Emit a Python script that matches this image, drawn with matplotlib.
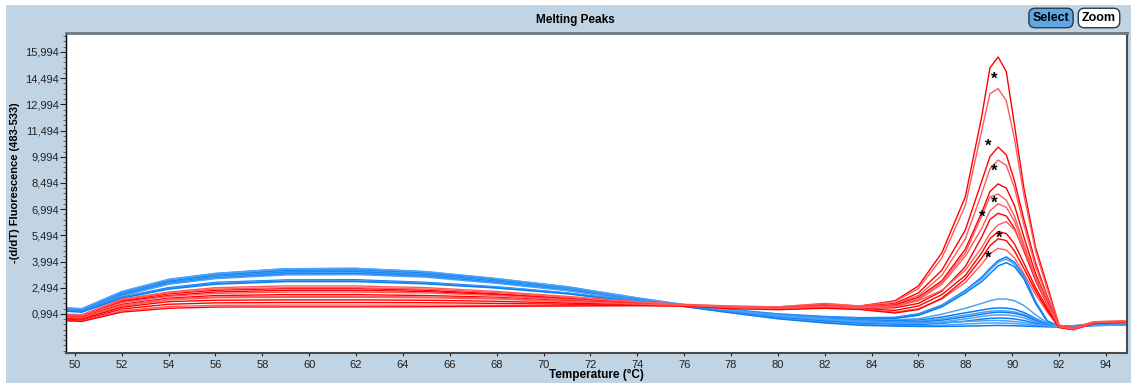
import matplotlib
matplotlib.use("Agg")
import matplotlib.pyplot as plt
from matplotlib.patches import Rectangle
from matplotlib.ticker import FixedLocator, FuncFormatter

plt.rcParams['font.family'] = ['Liberation Sans', 'DejaVu Sans']

# temperature grid (°C)
temps = [49.7, 50.3, 52, 54, 56, 59, 62, 65, 68, 71, 74, 76, 78, 80, 82, 83.5,
         85, 86, 87, 88, 88.7, 89.05, 89.4, 89.75, 90.1, 90.5, 91, 91.5, 92, 92.6, 93.5, 94.8]

# red samples, -(d/dT) values
red_curves = [
    [0.95, 0.92, 1.75, 2.15, 2.35, 2.45, 2.45, 2.35, 2.15, 1.9, 1.65, 1.5, 1.42, 1.38, 1.55, 1.45,
     1.75, 2.6, 4.5, 7.7, 12.3, 15.08, 15.71, 14.86, 11.8, 8.2, 4.8, 2.6, 0.35, 0.2, 0.55, 0.58],
    [0.98, 0.95, 1.85, 2.25, 2.5, 2.6, 2.6, 2.5, 2.28, 2.0, 1.7, 1.55, 1.45, 1.4, 1.6, 1.45,
     1.7, 2.45, 4.2, 7.2, 11.5, 13.6, 13.9, 13.2, 11.0, 7.8, 4.6, 2.4, 0.35, 0.2, 0.55, 0.6],
    [0.9, 0.87, 1.7, 2.05, 2.25, 2.35, 2.35, 2.28, 2.1, 1.85, 1.62, 1.5, 1.4, 1.35, 1.5, 1.4,
     1.6, 2.2, 3.5, 5.8, 8.6, 10.0, 10.55, 10.1, 8.6, 6.4, 3.9, 2.0, 0.3, 0.18, 0.5, 0.55],
    [0.88, 0.85, 1.65, 2.0, 2.17, 2.25, 2.25, 2.2, 2.05, 1.82, 1.6, 1.5, 1.4, 1.33, 1.48, 1.38,
     1.55, 2.05, 3.2, 5.3, 7.9, 9.3, 9.81, 9.5, 8.2, 6.1, 3.7, 1.9, 0.3, 0.18, 0.5, 0.55],
    [0.82, 0.8, 1.55, 1.9, 2.05, 2.1, 2.1, 2.05, 1.95, 1.75, 1.58, 1.5, 1.38, 1.32, 1.45, 1.35,
     1.5, 1.95, 2.9, 4.7, 6.8, 8.0, 8.44, 8.2, 7.2, 5.4, 3.3, 1.7, 0.28, 0.15, 0.5, 0.55],
    [0.78, 0.75, 1.45, 1.8, 1.92, 1.95, 1.95, 1.92, 1.85, 1.7, 1.55, 1.48, 1.36, 1.3, 1.42, 1.33,
     1.45, 1.85, 2.8, 4.5, 6.6, 7.7, 7.86, 7.5, 6.6, 5.0, 3.1, 1.6, 0.28, 0.15, 0.5, 0.55],
    [0.74, 0.71, 1.38, 1.7, 1.78, 1.8, 1.8, 1.78, 1.72, 1.62, 1.52, 1.47, 1.35, 1.3, 1.4, 1.32,
     1.35, 1.6, 2.3, 3.7, 5.4, 6.4, 6.76, 6.6, 5.9, 4.6, 2.9, 1.5, 0.25, 0.12, 0.48, 0.55],
    [0.95, 0.92, 1.8, 2.2, 2.42, 2.5, 2.5, 2.42, 2.22, 1.95, 1.68, 1.52, 1.44, 1.4, 1.58, 1.42,
     1.45, 1.75, 2.35, 3.5, 4.8, 5.6, 6.1, 6.28, 5.8, 4.7, 3.1, 1.6, 0.3, 0.15, 0.52, 0.58],
    [0.68, 0.65, 1.28, 1.55, 1.63, 1.65, 1.65, 1.64, 1.6, 1.55, 1.5, 1.46, 1.34, 1.28, 1.38, 1.3,
     1.2, 1.45, 2.1, 3.2, 4.5, 5.3, 5.71, 5.6, 5.0, 3.9, 2.5, 1.3, 0.25, 0.12, 0.48, 0.52],
    [0.63, 0.6, 1.18, 1.42, 1.49, 1.5, 1.5, 1.5, 1.49, 1.48, 1.48, 1.45, 1.32, 1.26, 1.35, 1.28,
     1.1, 1.3, 1.85, 2.8, 3.85, 4.45, 4.75, 4.65, 4.2, 3.3, 2.1, 1.1, 0.22, 0.1, 0.45, 0.5],
    [0.6, 0.57, 1.1, 1.32, 1.39, 1.4, 1.4, 1.41, 1.43, 1.45, 1.47, 1.45, 1.3, 1.24, 1.32, 1.25,
     1.05, 1.25, 1.9, 3.0, 4.2, 4.9, 5.3, 5.2, 4.6, 3.6, 2.3, 1.2, 0.22, 0.1, 0.45, 0.5],
    [0.8, 0.77, 1.5, 1.85, 1.97, 2.0, 2.0, 1.97, 1.9, 1.72, 1.56, 1.49, 1.37, 1.31, 1.44, 1.34,
     1.4, 1.8, 2.7, 4.3, 5.9, 6.9, 7.3, 7.1, 6.3, 4.8, 3.0, 1.55, 0.27, 0.13, 0.5, 0.55],
]

# blue samples
blue_curves = [
    [1.32, 1.28, 2.25, 2.95, 3.3, 3.58, 3.6, 3.4, 3.0, 2.55, 1.9, 1.52, 1.25, 1.0, 0.85, 0.78,
     0.8, 1.0, 1.5, 2.35, 3.1, 3.6, 4.05, 4.26, 3.95, 3.2, 1.7, 0.6, 0.3, 0.32, 0.38, 0.4],
    [1.3, 1.26, 2.2, 2.9, 3.25, 3.52, 3.55, 3.36, 2.95, 2.5, 1.88, 1.5, 1.23, 0.97, 0.82, 0.74,
     0.76, 0.95, 1.45, 2.3, 3.0, 3.5, 3.95, 4.14, 3.85, 3.1, 1.65, 0.58, 0.3, 0.32, 0.37, 0.4],
    [1.28, 1.24, 2.15, 2.85, 3.2, 3.47, 3.5, 3.32, 2.92, 2.48, 1.86, 1.49, 1.22, 0.95, 0.8, 0.72,
     0.74, 0.92, 1.4, 2.2, 2.85, 3.3, 3.75, 3.93, 3.7, 3.0, 1.6, 0.56, 0.3, 0.32, 0.37, 0.4],
    [1.26, 1.22, 2.12, 2.8, 3.15, 3.42, 3.45, 3.28, 2.88, 2.45, 1.84, 1.48, 1.2, 0.93, 0.78, 0.68,
     0.66, 0.72, 0.98, 1.32, 1.6, 1.75, 1.85, 1.85, 1.75, 1.48, 0.95, 0.48, 0.3, 0.32, 0.36, 0.38],
    [1.25, 1.2, 2.1, 2.78, 3.12, 3.38, 3.4, 3.24, 2.85, 2.42, 1.82, 1.47, 1.18, 0.9, 0.74, 0.64,
     0.6, 0.64, 0.82, 1.06, 1.22, 1.3, 1.34, 1.33, 1.26, 1.08, 0.74, 0.42, 0.28, 0.3, 0.35, 0.37],
    [1.24, 1.2, 2.08, 2.75, 3.1, 3.33, 3.35, 3.2, 2.82, 2.4, 1.8, 1.46, 1.16, 0.88, 0.7, 0.6,
     0.55, 0.58, 0.72, 0.93, 1.08, 1.15, 1.18, 1.17, 1.11, 0.97, 0.68, 0.4, 0.28, 0.3, 0.35, 0.37],
    [1.22, 1.18, 2.05, 2.72, 3.05, 3.28, 3.3, 3.15, 2.78, 2.36, 1.78, 1.45, 1.14, 0.85, 0.66, 0.55,
     0.5, 0.52, 0.64, 0.83, 0.98, 1.05, 1.1, 1.08, 1.03, 0.9, 0.62, 0.37, 0.27, 0.3, 0.35, 0.37],
    [1.2, 1.16, 2.02, 2.7, 3.02, 3.23, 3.25, 3.1, 2.75, 2.33, 1.76, 1.44, 1.12, 0.82, 0.62, 0.5,
     0.45, 0.46, 0.54, 0.71, 0.85, 0.91, 0.94, 0.93, 0.89, 0.77, 0.54, 0.34, 0.27, 0.3, 0.34, 0.36],
    [1.18, 1.14, 1.95, 2.5, 2.8, 2.94, 2.95, 2.8, 2.55, 2.2, 1.72, 1.44, 1.1, 0.78, 0.58, 0.45,
     0.4, 0.39, 0.46, 0.58, 0.7, 0.74, 0.76, 0.75, 0.71, 0.62, 0.46, 0.32, 0.26, 0.3, 0.34, 0.36],
    [1.16, 1.12, 1.92, 2.45, 2.75, 2.9, 2.9, 2.76, 2.52, 2.18, 1.7, 1.43, 1.08, 0.75, 0.52, 0.4,
     0.34, 0.32, 0.35, 0.42, 0.46, 0.48, 0.48, 0.47, 0.44, 0.4, 0.33, 0.28, 0.26, 0.3, 0.34, 0.36],
    [1.15, 1.1, 1.9, 2.42, 2.7, 2.85, 2.85, 2.72, 2.48, 2.15, 1.68, 1.42, 1.06, 0.72, 0.48, 0.35,
     0.3, 0.28, 0.28, 0.3, 0.32, 0.33, 0.34, 0.33, 0.32, 0.3, 0.28, 0.26, 0.25, 0.3, 0.34, 0.36],
    [1.34, 1.3, 2.28, 2.98, 3.32, 3.58, 3.6, 3.42, 3.02, 2.55, 1.92, 1.53, 1.2, 0.92, 0.7, 0.55,
     0.48, 0.46, 0.5, 0.56, 0.6, 0.62, 0.62, 0.6, 0.56, 0.5, 0.4, 0.32, 0.27, 0.3, 0.35, 0.37],
]

# asterisk markers on peaks
star_temps = [89.24, 88.98, 89.24, 89.24, 88.74, 89.44, 88.98]
star_values = [14.45, 10.61, 9.18, 7.33, 6.51, 5.33, 4.18]

y_ticks = [0.994, 2.494, 3.994, 5.494, 6.994, 8.494, 9.994, 11.494, 12.994, 14.494, 15.994]
x_ticks = list(range(50, 96, 2))

W, H = 1131, 383
fig = plt.figure(figsize=(W / 100, H / 100), dpi=100)
fig.patch.set_facecolor('white')
fig.patches.append(Rectangle((6 / W, 0), 1, 1 - 5 / H, transform=fig.transFigure,
                             facecolor='#c1d4e4', edgecolor='none', zorder=-5))

ax = fig.add_axes([66 / W, 1 - 353 / H, (1127 - 66) / W, (353 - 33) / H])
ax.set_facecolor('white')

blue_cols = ['#0a7ff5', '#4da3f7']
red_cols = ['#ff0000', '#ff5a5a']
for i, c in enumerate(blue_curves):
    ax.plot(temps, c, color=blue_cols[i % 2], lw=1.1, solid_joinstyle='miter')
for i, c in enumerate(red_curves):
    ax.plot(temps, c, color=red_cols[i % 2], lw=1.0, solid_joinstyle='miter')

for t, v in zip(star_temps, star_values):
    ax.text(t, v, '*', ha='center', va='center', fontsize=12, fontweight='bold', color='black')

ax.set_xlim(49.62, 94.9)
ax.set_ylim(-1.24, 17.08)
ax.xaxis.set_major_locator(FixedLocator(x_ticks))
ax.yaxis.set_major_locator(FixedLocator(y_ticks))
ax.yaxis.set_minor_locator(FixedLocator([0.994 + 0.3 * k for k in range(-7, 55)]))
ax.yaxis.set_major_formatter(FuncFormatter(lambda v, p: f'{v:,.3f}'.replace('.', ',')))
ax.tick_params(axis='x', length=2, pad=3, labelsize=8, colors='#222222')
ax.tick_params(axis='y', which='major', length=4, pad=1, labelsize=8, colors='#222222')
ax.tick_params(axis='y', which='minor', length=2, color='#555555')

ax.spines['top'].set_color('#6d7680')
ax.spines['top'].set_linewidth(2)
ax.spines['left'].set_color('black')
ax.spines['left'].set_linewidth(1)
ax.spines['bottom'].set_color('#4a4a4a')
ax.spines['bottom'].set_linewidth(1.5)
ax.spines['right'].set_color('#4a4a4a')
ax.spines['right'].set_linewidth(1.5)

fig.text(575 / W, 1 - 20 / H, 'Melting Peaks', ha='center', va='center',
         fontsize=8.5, fontweight='bold')
fig.text(596 / W, 1 - 375 / H, 'Temperature (°C)', ha='center', va='center',
         fontsize=8.5, fontweight='bold')
fig.text(15 / W, 1 - 183 / H, '-(d/dT) Fluorescence (483-533)', ha='center', va='center',
         rotation=90, fontsize=8, fontweight='bold')

fig.text(1051 / W, 1 - 18 / H, 'Select', ha='center', va='center', fontsize=9,
         fontweight='bold',
         bbox=dict(boxstyle='round,pad=0.3,rounding_size=0.5', fc='#5ea7e2', ec='#2a3a4a', lw=1))
fig.text(1099 / W, 1 - 18 / H, 'Zoom', ha='center', va='center', fontsize=9,
         fontweight='bold',
         bbox=dict(boxstyle='round,pad=0.3,rounding_size=0.5', fc='white', ec='#2a3a4a', lw=1))

fig.savefig('out.png', dpi=100)
